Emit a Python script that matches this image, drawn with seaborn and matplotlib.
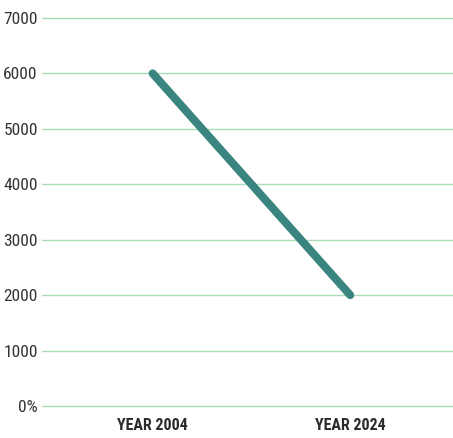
import matplotlib
matplotlib.use("Agg")
import matplotlib.pyplot as plt
import seaborn as sns
import pandas as pd
from matplotlib import font_manager

categories = ["YEAR 2004", "YEAR 2024"]
values = [6000, 2000]
yticks = [0, 1000, 2000, 3000, 4000, 5000, 6000, 7000]
ytick_labels = ["0%", "1000", "2000", "3000", "4000", "5000", "6000", "7000"]

names = {f.name for f in font_manager.fontManager.ttflist}
fam = "DejaVu Sans"
for cand in ["Roboto Condensed", "Liberation Sans Narrow", "Open Sans Condensed",
             "Noto Sans Condensed", "Roboto"]:
    if cand in names:
        fam = cand
        break

sns.set_style("white")
plt.rcParams['font.family'] = [fam, 'DejaVu Sans']

df = pd.DataFrame({"x": [0, 1], "y": values})

fig = plt.figure(figsize=(4.53, 4.38), dpi=100)
ax = fig.add_axes([42/453, 32/438, 1 - 42/453, 388/438])
sns.lineplot(data=df, x="x", y="y", ax=ax, color="#3a8580", linewidth=5.8,
             solid_capstyle="round")
ax.set_xlim(-0.56, 1.52)
ax.set_ylim(0, 7000)
ax.set_yticks(yticks)
ax.set_yticklabels(ytick_labels, fontsize=12.5, color="#333333")
ax.set_xticks([0, 1])
ax.set_xticklabels(categories, fontsize=11.5, fontweight="bold", color="#2b2b2b")
ax.tick_params(axis="both", length=0, pad=3)
ax.tick_params(axis="x", pad=9)
ax.set_xlabel("")
ax.set_ylabel("")
for s in ax.spines.values():
    s.set_visible(False)
for yv in yticks:
    ax.axhline(yv, color="#a9dcb9", linewidth=1.0, zorder=0, clip_on=False)
fig.savefig("out.png", dpi=100)
